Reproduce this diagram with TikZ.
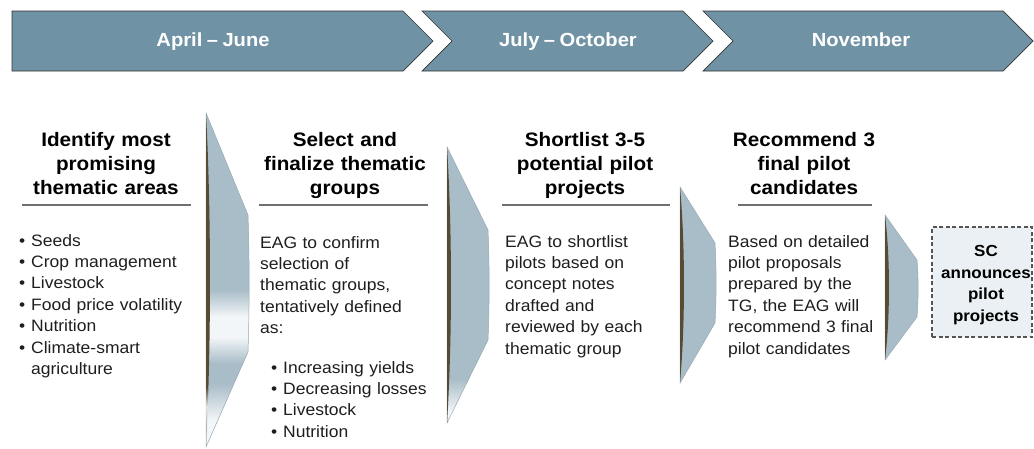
\documentclass[tikz,border=0pt]{standalone}
\usepackage{fontspec}
\setmainfont{Liberation Sans}[FakeStretch=1.06, WordSpace=0.8]
\definecolor{chev}{HTML}{6F92A4}
\definecolor{lensb}{HTML}{A9BDC8}
\definecolor{lensw}{HTML}{F3F6F8}
\definecolor{lensedge}{HTML}{97A8B2}
\definecolor{band}{HTML}{574B34}
\definecolor{txt}{HTML}{1E1E1E}
\definecolor{rulec}{HTML}{707070}
\definecolor{scfill}{HTML}{EAF0F3}
\definecolor{scline}{HTML}{555555}
\pgfdeclareverticalshading{lensA}{100bp}{color(0bp)=(white); color(29bp)=(lensw); color(34.5bp)=(lensb); color(37.5bp)=(lensb); color(41.5bp)=(lensw); color(44.5bp)=(lensw); color(48.5bp)=(lensb); color(100bp)=(lensb)}
\pgfdeclareverticalshading{lensB}{100bp}{color(0bp)=(white); color(27bp)=(lensw); color(33bp)=(lensb); color(100bp)=(lensb)}
\pgfdeclareverticalshading{lensC}{100bp}{color(0bp)=(lensb); color(100bp)=(lensb)}
\pgfdeclareverticalshading{bandA}{100bp}{color(0bp)=(gray!70); color(28bp)=(gray!60); color(31bp)=(white!85!band); color(34bp)=(band); color(100bp)=(band)}
\pgfdeclareverticalshading{bandC}{100bp}{color(0bp)=(band); color(100bp)=(band)}
% #1 lens shading, #2 band shading, #3 left x, #4 right x, #5 top, #6 upper vertex, #7 lower vertex, #8 bottom
\newcommand\mylens[8]{%
  \path[shade, shading=#1, draw=lensedge, line width=0.5]
    (#3,#5) -- (#4,#6) .. controls ({#4+1.5},{#6+(#7-#6)/3}) and ({#4+1.5},{#7-(#7-#6)/3}) .. (#4,#7) -- (#3,#8) -- cycle;
  \path[shade, shading=#2]
    (#3,#5) .. controls ({#3+5.3},{#5+(#8-#5)*0.3}) and ({#3+5.3},{#8-(#8-#5)*0.3}) .. (#3,#8) -- cycle;
}
\tikzset{
  chevshape/.style={fill=chev, draw=black!80, line width=0.7},
  chevtext/.style={font=\bfseries\fontsize{19}{22}\selectfont, text=white, anchor=base, inner sep=0},
  head/.style={font=\bfseries\fontsize{19.5}{24}\selectfont, text=black, anchor=base, inner sep=0, text width=230pt, align=center},
  body/.style={font=\fontsize{16.5}{21.4}\selectfont, text=txt, anchor=base west, inner sep=0, text width=220pt, align=left},
  sctext/.style={font=\bfseries\fontsize{16}{21.5}\selectfont, text=black, anchor=base, inner sep=0, text width=120pt, align=center},
  underline/.style={draw=rulec, line width=1.6},
  scbox/.style={draw=scline, fill=scfill, line width=1.1, dash pattern=on 4pt off 2.5pt, minimum width=100pt, minimum height=110pt, inner sep=0},
}
\newcommand\bul{\leavevmode\llap{\textbullet\hskip 6pt}}
\begin{document}
\begin{tikzpicture}[x=1pt, y=-1pt]
\useasboundingbox (0,0) rectangle (1034,448);
% timeline chevrons
\path[chevshape] (12,11) -- (403,11) -- (433,41) -- (403,71) -- (12,71) -- cycle;
\path[chevshape] (422,11) -- (683,11) -- (713,41) -- (683,71) -- (422,71) -- (452,41) -- cycle;
\path[chevshape] (703,11) -- (1003,11) -- (1033,41) -- (1003,71) -- (703,71) -- (733,41) -- cycle;
\node[chevtext] (p1) at (213,46.7) {April -- June};
\node[chevtext] (p2) at (568,46.7) {July -- October};
\node[chevtext] (p3) at (861,46.7) {November};
% lenses
\mylens{lensA}{bandA}{206}{248}{113}{215}{352}{447}
\mylens{lensB}{bandC}{447}{488}{147}{230}{340}{423}
\mylens{lensC}{bandC}{680}{715}{187}{243}{323}{383}
\mylens{lensC}{bandC}{885}{917}{215}{260}{317}{360}
% headings
\node[head] (h1) at (106,146.5) {Identify most\\promising\\thematic areas};
\node[head] (h2) at (345,146.5) {Select and\\finalize thematic\\groups};
\node[head] (h3) at (585,146.5) {Shortlist 3-5\\potential pilot\\projects};
\node[head] (h4) at (804,146.5) {Recommend 3\\final pilot\\candidates};
\draw[underline] (22,205) -- (191,205);
\draw[underline] (259,205) -- (428,205);
\draw[underline] (502,205) -- (670,205);
\draw[underline] (738,205) -- (872,205);
% bodies
\node[body] (b1) at (31,246) {\bul Seeds\\\bul Crop management\\\bul Livestock\\\bul Food price volatility\\\bul Nutrition\\\bul Climate-smart\\agriculture};
\node[body] (b2) at (260,248) {EAG to confirm\\selection of\\thematic groups,\\tentatively defined\\as:};
\node[body] (b2l) at (283,373) {\bul Increasing yields\\\bul Decreasing losses\\\bul Livestock\\\bul Nutrition};
\node[body] (b3) at (505,247) {EAG to shortlist\\pilots based on\\concept notes\\drafted and\\reviewed by each\\thematic group};
\node[body] (b4) at (728,247) {Based on detailed\\pilot proposals\\prepared by the\\TG, the EAG will\\recommend 3 final\\pilot candidates};
% SC box
\node[scbox] (sc) at (982,282) {};
\node[sctext] (sct) at (986,256.7) {SC\\announces\\pilot\\projects};
\end{tikzpicture}
\end{document}
